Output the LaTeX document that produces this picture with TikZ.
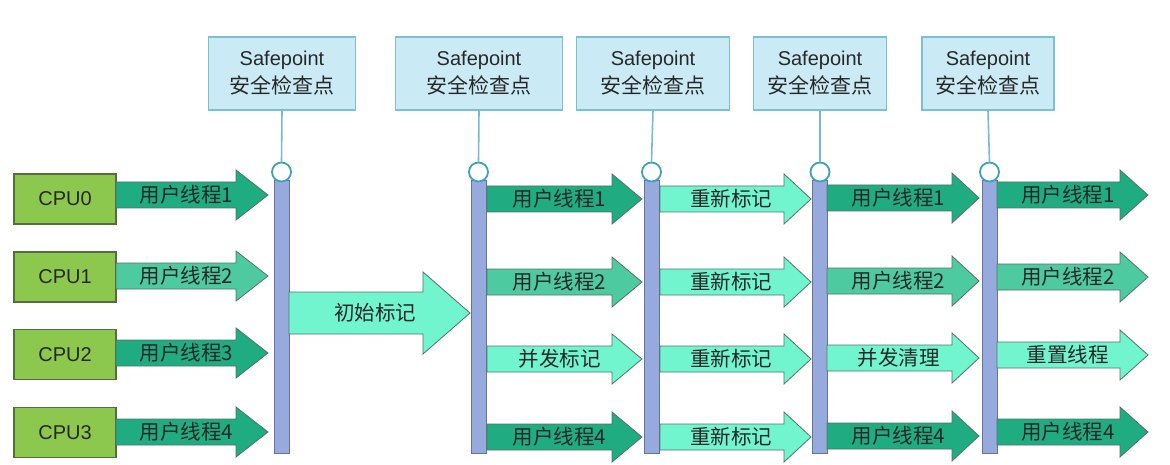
\documentclass[tikz,border=0pt]{standalone}
\usepackage{fontspec}
\setmainfont{Liberation Sans}
\newfontfamily\cjk{Noto Sans CJK SC}
\definecolor{darkA}{RGB}{30,172,128}
\definecolor{medA}{RGB}{78,202,160}
\definecolor{lightA}{RGB}{112,245,206}
\definecolor{arrowEdge}{RGB}{85,115,105}
\definecolor{cpuFill}{RGB}{140,200,78}
\definecolor{cpuEdge}{RGB}{85,110,60}
\definecolor{spFill}{RGB}{202,235,245}
\definecolor{spEdge}{RGB}{125,192,212}
\definecolor{stemCol}{RGB}{122,186,206}
\definecolor{circEdge}{RGB}{62,160,190}
\definecolor{barFill}{RGB}{150,170,222}
\definecolor{barEdge}{RGB}{102,116,152}
\definecolor{txt}{RGB}{40,40,40}
\tikzset{
  spbox/.style={draw=spEdge, fill=spFill, line width=1.2pt, minimum height=73pt, inner sep=0pt,
    align=center, text=txt, font=\fontsize{20}{28}\selectfont},
  cpubox/.style={draw=cpuEdge, fill=cpuFill, line width=1.2pt, minimum width=102pt, minimum height=50pt,
    inner sep=0pt, text=txt, font=\fontsize{20}{24}\selectfont},
  barnode/.style={draw=barEdge, fill=barFill, line width=0.8pt, minimum width=15pt, minimum height=273pt, inner sep=0pt},
  circnode/.style={circle, draw=circEdge, fill=white, line width=1.8pt, minimum size=19pt, inner sep=0pt},
  stemline/.style={draw=stemCol, line width=1.6pt},
  arrowD/.style={fill=darkA, draw=arrowEdge, line width=0.8pt},
  arrowM/.style={fill=medA, draw=arrowEdge, line width=0.8pt},
  arrowL/.style={fill=lightA, draw=arrowEdge, line width=0.8pt},
  lbl/.style={inner sep=0pt, text=txt, font=\cjk\fontsize{20.5}{22}\selectfont}
}
% name, left, tip, y, head length, style, text
\newcommand{\blk}[7]{%
  \filldraw[#6] (#2,#4-13) -- (#3-#5,#4-13) -- (#3-#5,#4-25) -- (#3,#4) -- (#3-#5,#4+25) -- (#3-#5,#4+13) -- (#2,#4+13) -- cycle;
  \node[lbl] (#1) at ({(#2+#3-#5)/2+#5/3},#4) {#7};}
\newcommand{\sptext}{Safepoint\\{\cjk\fontsize{21}{28}\selectfont 安全检查点}}
\begin{document}
\begin{tikzpicture}[x=1pt,y=-1pt]
\useasboundingbox (0,0) rectangle (1170,465);
\fill[white] (0,0) rectangle (1170,465);

% safepoint boxes
\node[spbox, minimum width=147pt] (sp1) at (282,73.5) {\sptext};
\node[spbox, minimum width=167pt] (sp2) at (479,73.5) {\sptext};
\node[spbox, minimum width=153pt] (sp3) at (653,73.5) {\sptext};
\node[spbox, minimum width=133pt] (sp4) at (820,73.5) {\sptext};
\node[spbox, minimum width=132pt] (sp5) at (988,73.5) {\sptext};

% bars
\node[barnode] (b1) at (281.5,316.5) {};
\node[barnode] (b2) at (478.5,316.5) {};
\node[barnode] (b3) at (651.5,316.5) {};
\node[barnode] (b4) at (820,316.5) {};
\node[barnode] (b5) at (989.5,316.5) {};

% circles
\node[circnode] (c1) at (281.5,172) {};
\node[circnode] (c2) at (478.5,172) {};
\node[circnode] (c3) at (651.5,172) {};
\node[circnode] (c4) at (820,172) {};
\node[circnode] (c5) at (989.5,172) {};

% stems
\foreach \i in {1,...,5} { \draw[stemline] (sp\i.south) -- (c\i.north); }

% CPU boxes
\node[cpubox] (cpu0) at (65,199) {CPU0};
\node[cpubox] (cpu1) at (65,277) {CPU1};
\node[cpubox] (cpu2) at (65,354.5) {CPU2};
\node[cpubox] (cpu3) at (65,432.5) {CPU3};

% column 1
\blk{a11}{116}{268}{195}{32}{arrowD}{用户线程1}
\blk{a12}{116}{268}{276}{32}{arrowM}{用户线程2}
\blk{a13}{116}{268}{353}{32}{arrowD}{用户线程3}
\blk{a14}{116}{268}{432}{32}{arrowD}{用户线程4}

% initial mark big arrow
\filldraw[arrowL] (289,292) -- (423,292) -- (423,272) -- (470,313) -- (423,354) -- (423,334) -- (289,334) -- cycle;
\node[lbl] (init) at (375,313) {初始标记};

% column 2
\blk{a21}{487}{642}{199}{30}{arrowD}{用户线程1}
\blk{a22}{487}{642}{282}{30}{arrowM}{用户线程2}
\blk{a23}{487}{642}{359}{30}{arrowL}{并发标记}
\blk{a24}{487}{642}{437}{30}{arrowD}{用户线程4}

% column 3
\blk{a31}{660}{811}{199}{27}{arrowL}{重新标记}
\blk{a32}{660}{811}{282}{27}{arrowL}{重新标记}
\blk{a33}{660}{811}{359}{27}{arrowL}{重新标记}
\blk{a34}{660}{811}{437}{27}{arrowL}{重新标记}

% column 4
\blk{a41}{827}{979}{198}{27}{arrowD}{用户线程1}
\blk{a42}{827}{979}{281}{27}{arrowM}{用户线程2}
\blk{a43}{827}{979}{358}{27}{arrowL}{并发清理}
\blk{a44}{827}{979}{436}{27}{arrowD}{用户线程4}

% column 5
\blk{a51}{997}{1148}{195}{28}{arrowD}{用户线程1}
\blk{a52}{997}{1148}{277}{28}{arrowM}{用户线程2}
\blk{a53}{997}{1148}{355}{28}{arrowL}{重置线程}
\blk{a54}{997}{1148}{432}{28}{arrowD}{用户线程4}
\end{tikzpicture}
\end{document}
